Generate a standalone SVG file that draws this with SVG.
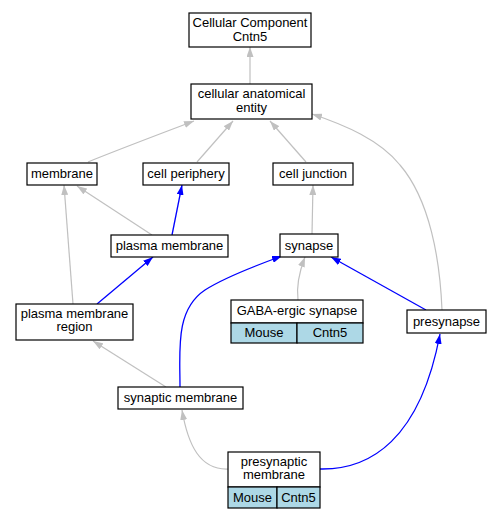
<svg xmlns="http://www.w3.org/2000/svg" width="501" height="520" viewBox="0 0 501 520">
<style>
text{font-family:"Liberation Sans",Arial,sans-serif;font-size:13px;fill:#000;text-anchor:middle}
.box{fill:#fff;stroke:#000;stroke-width:1.2}
.cell{fill:#add8e6;stroke:#000;stroke-width:1.2}
.g{fill:none;stroke:#c0c0c0;stroke-width:1.2}
.b{fill:none;stroke:#0000ff;stroke-width:1.3}
</style>
<defs>
<marker id="ag" viewBox="0 0 10 7" refX="10" refY="3.5" markerWidth="10" markerHeight="7" markerUnits="userSpaceOnUse" orient="auto"><path d="M0,0 L10,3.5 L0,7 z" fill="#c0c0c0"/></marker>
<marker id="ab" viewBox="0 0 10 7" refX="10" refY="3.5" markerWidth="10" markerHeight="7" markerUnits="userSpaceOnUse" orient="auto"><path d="M0,0 L10,3.5 L0,7 z" fill="#0000ff"/></marker>
</defs>
<rect width="501" height="520" fill="#fff"/>
<g id="connectors">
<path class="g" marker-end="url(#ag)" d="M250,84 L250,47"/>
<path class="g" marker-end="url(#ag)" d="M88,162 C120,149 160,134 194,121"/>
<path class="g" marker-end="url(#ag)" d="M197,162 L233,121"/>
<path class="g" marker-end="url(#ag)" d="M306,162 L270,121"/>
<path class="g" marker-end="url(#ag)" d="M442,310 C440,260 430,200 400,165 C380,140 345,125 312,114"/>
<path class="g" marker-end="url(#ag)" d="M152,235 L77,186"/>
<path class="b" marker-end="url(#ab)" d="M172,235 L182,185"/>
<path class="g" marker-end="url(#ag)" d="M73,304 L64,185"/>
<path class="b" marker-end="url(#ab)" d="M97,304 L153,257"/>
<path class="g" marker-end="url(#ag)" d="M312,234 L313,185"/>
<path class="g" marker-end="url(#ag)" d="M298,300 C296,285 300,270 305,257"/>
<path class="b" marker-end="url(#ab)" d="M426,310 L331,257"/>
<path class="g" marker-end="url(#ag)" d="M166,387 L93,341"/>
<path class="b" marker-end="url(#ab)" d="M180,387 C180,350 175,310 205,290 C225,277 260,264 282,256"/>
<path class="g" marker-end="url(#ag)" d="M228,469 C200,470 188,445 182,410"/>
<path class="b" marker-end="url(#ab)" d="M320,469 C370,470 420,440 440,334"/>
</g>
<g id="cc"><rect class="box" x="189" y="13" width="122" height="34"/><text x="250" y="27">Cellular Component</text><text x="250" y="41">Cntn5</text></g>
<g id="cae"><rect class="box" x="191" y="84" width="121" height="35"/><text x="251.5" y="98">cellular anatomical</text><text x="251.5" y="112">entity</text></g>
<g id="membrane"><rect class="box" x="27" y="163" width="70" height="22"/><text x="62" y="178">membrane</text></g>
<g id="cellperiphery"><rect class="box" x="143" y="163" width="86" height="22"/><text x="186" y="178">cell periphery</text></g>
<g id="celljunction"><rect class="box" x="273" y="163" width="80" height="22"/><text x="313" y="178">cell junction</text></g>
<g id="plasmamembrane"><rect class="box" x="111" y="235" width="117" height="22"/><text x="169.5" y="250">plasma membrane</text></g>
<g id="synapse"><rect class="box" x="280" y="234" width="58" height="23"/><text x="309" y="250">synapse</text></g>
<g id="pmr"><rect class="box" x="16" y="304" width="117" height="36"/><text x="74.5" y="318">plasma membrane</text><text x="74.5" y="331">region</text></g>
<g id="gaba"><rect class="box" x="231" y="300" width="132" height="23"/><rect class="cell" x="231" y="323" width="66" height="20"/><rect class="cell" x="297" y="323" width="66" height="20"/><text x="297" y="315">GABA-ergic synapse</text><text x="264" y="337">Mouse</text><text x="330" y="337">Cntn5</text></g>
<g id="presynapse"><rect class="box" x="407" y="310" width="79" height="23"/><text x="446.5" y="326">presynapse</text></g>
<g id="synapticmembrane"><rect class="box" x="118" y="387" width="125" height="22"/><text x="180.5" y="402">synaptic membrane</text></g>
<g id="presynapticmembrane"><rect class="box" x="228" y="452" width="92" height="35"/><rect class="cell" x="228" y="487" width="49" height="21"/><rect class="cell" x="277" y="487" width="43" height="21"/><text x="274" y="466">presynaptic</text><text x="274" y="479">membrane</text><text x="252.5" y="502">Mouse</text><text x="298.5" y="502">Cntn5</text></g>
</svg>
